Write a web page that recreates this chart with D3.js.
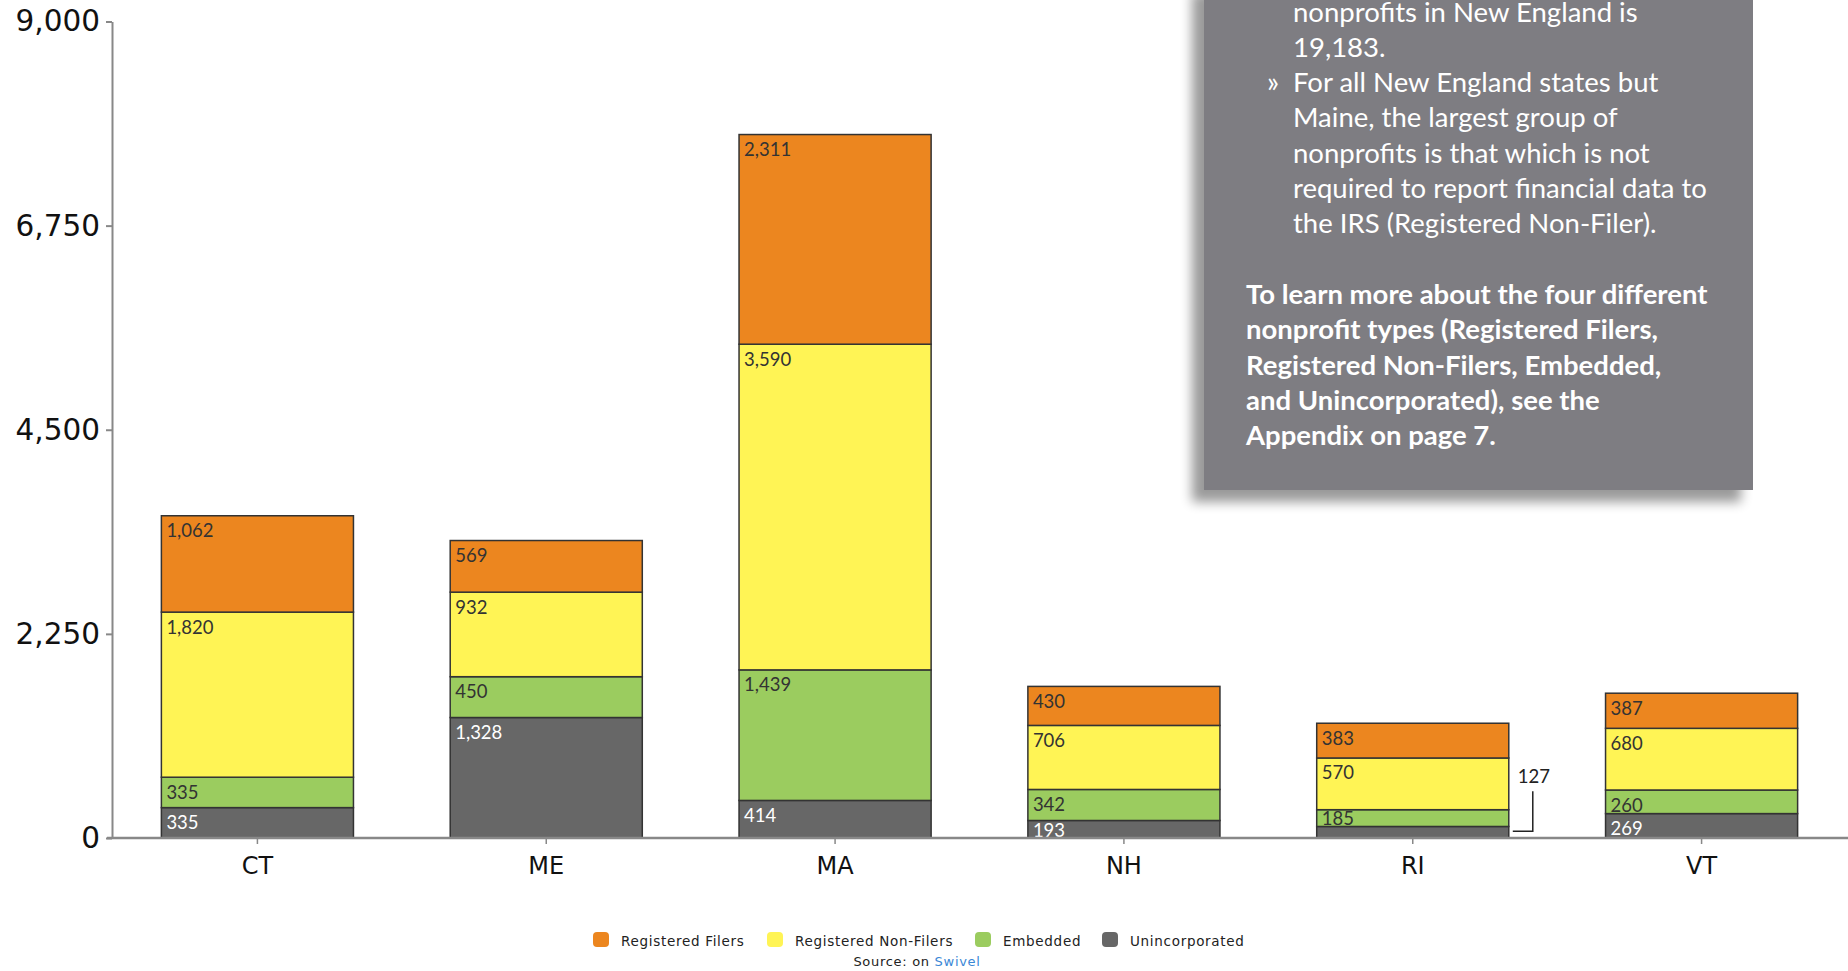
<!DOCTYPE html>
<html>
<head>
<meta charset="utf-8">
<script src="https://cdn.jsdelivr.net/npm/d3@7"></script>
<style>
  html, body { margin: 0; padding: 0; background: #fff; }
  svg { display: block; }
</style>
</head>
<body>
<svg id="chart" width="1848" height="971"></svg>
<script>
// ---- data ----
const states = ["CT", "ME", "MA", "NH", "RI", "VT"];
const seriesNames = ["Unincorporated", "Embedded", "Registered Non-Filers", "Registered Filers"];
const unincorporated = [335, 1328, 414, 193, 127, 269];
const embedded = [335, 450, 1439, 342, 185, 260];
const nonFilers = [1820, 932, 3590, 706, 570, 680];
const filers = [1062, 569, 2311, 430, 383, 387];
const yTicks = [0, 2250, 4500, 6750, 9000];
const legendOrder = ["Registered Filers", "Registered Non-Filers", "Embedded", "Unincorporated"];
const colors = {
  "Registered Filers": "#ec861f",
  "Registered Non-Filers": "#fff455",
  "Embedded": "#9bcc5f",
  "Unincorporated": "#676767"
};
const noteLines = [
  { bullet: false, bold: false, text: "nonprofits in New England is" },
  { bullet: false, bold: false, text: "19,183." },
  { bullet: true, bold: false, text: "For all New England states but" },
  { bullet: false, bold: false, text: "Maine, the largest group of" },
  { bullet: false, bold: false, text: "nonprofits is that which is not" },
  { bullet: false, bold: false, text: "required to report financial data to" },
  { bullet: false, bold: false, text: "the IRS (Registered Non-Filer)." },
  null,
  { bullet: false, bold: true, text: "To learn more about the four different" },
  { bullet: false, bold: true, text: "nonprofit types (Registered Filers," },
  { bullet: false, bold: true, text: "Registered Non-Filers, Embedded," },
  { bullet: false, bold: true, text: "and Unincorporated), see the" },
  { bullet: false, bold: true, text: "Appendix on page 7." }
];

// ---- build table ----
const table = states.map((s, i) => ({
  state: s,
  "Unincorporated": unincorporated[i],
  "Embedded": embedded[i],
  "Registered Non-Filers": nonFilers[i],
  "Registered Filers": filers[i]
}));

const svg = d3.select("#chart");
const x = d3.scaleBand().domain(states).range([113, 1846]).paddingInner(0.335).paddingOuter(0.1675);
const y = d3.scaleLinear().domain([0, 9000]).range([838, 21.5]);

const stacked = d3.stack().keys(seriesNames)(table);

// bars
const defs = svg.append("defs");
let clipId = 0;
const barG = svg.append("g");
stacked.forEach(layer => {
  const key = layer.key;
  layer.forEach(d => {
    const st = d.data.state;
    const x0 = x(st), w = x.bandwidth();
    const yTop = y(d[1]), yBot = y(d[0]);
    const h = yBot - yTop;
    barG.append("rect")
      .attr("x", x0).attr("y", yTop).attr("width", w).attr("height", h)
      .attr("fill", colors[key]).attr("stroke", "#333").attr("stroke-width", 1.5);
    const val = d[1] - d[0];
    const label = d3.format(",")(val);
    const txtColor = key === "Unincorporated" ? "#fff" : "#333";
    if (h >= 14) {
      const id = "clip" + (clipId++);
      defs.append("clipPath").attr("id", id).append("rect")
        .attr("x", x0).attr("y", yTop).attr("width", w).attr("height", h);
      barG.append("text")
        .attr("clip-path", `url(#${id})`)
        .attr("x", x0 + 5).attr("y", Math.min(yTop + 21.5, yBot - 1))
        .attr("font-family", "Lato, 'Open Sans', sans-serif")
        .attr("font-size", 18.5)
        .attr("fill", txtColor)
        .text(label);
    } else {
      // callout to the right
      const xr = x0 + w;
      const ym = (yTop + yBot) / 2;
      barG.append("path")
        .attr("d", `M${xr + 4},${ym - 1}H${xr + 24}V${ym - 41}`)
        .attr("fill", "none").attr("stroke", "#222").attr("stroke-width", 1.5);
      barG.append("text")
        .attr("x", xr + 9).attr("y", ym - 49)
        .attr("font-family", "Lato, 'Open Sans', sans-serif")
        .attr("font-size", 18.5)
        .attr("fill", "#222")
        .text(label);
    }
  });
});

// axes
const yAxis = d3.axisLeft(y).tickValues(yTicks).tickFormat(d3.format(",")).tickSize(6).tickPadding(6).tickSizeOuter(0);
const yg = svg.append("g").attr("transform", "translate(112,0)").call(yAxis);
yg.select(".domain").attr("stroke", "#888").attr("stroke-width", 2);
yg.selectAll(".tick line").attr("stroke", "#888").attr("stroke-width", 2);
yg.selectAll(".tick text").attr("font-family", "'DejaVu Sans', Verdana, sans-serif").attr("font-size", 29.5).attr("fill", "#111");

const xAxis = d3.axisBottom(x).tickSize(6).tickPadding(13).tickSizeOuter(0);
const xg = svg.append("g").attr("transform", "translate(0,838)").call(xAxis);
xg.select(".domain").attr("d", "M107,0H1848").attr("stroke", "#888").attr("stroke-width", 2.5);
xg.selectAll(".tick line").attr("stroke", "#888").attr("stroke-width", 1.5);
xg.selectAll(".tick text").attr("font-family", "'DejaVu Sans', Verdana, sans-serif").attr("font-size", 24).attr("fill", "#111");

// legend
const legend = svg.append("g");
const legX = [593, 767, 975, 1102];
legendOrder.forEach((k, i) => {
  legend.append("rect").attr("x", legX[i]).attr("y", 932).attr("width", 16).attr("height", 15).attr("rx", 4)
    .attr("fill", colors[k]);
  legend.append("text").attr("x", legX[i] + 28).attr("y", 945.5)
    .attr("font-family", "'DejaVu Sans', Verdana, sans-serif").attr("font-size", 13.5)
    .attr("letter-spacing", 0.7)
    .attr("fill", "#222").text(k);
});
const src = svg.append("text").attr("x", 917).attr("y", 966).attr("text-anchor", "middle")
  .attr("font-family", "'DejaVu Sans', Verdana, sans-serif").attr("font-size", 13)
  .attr("letter-spacing", 0.7).attr("fill", "#222");
src.append("tspan").text("Source: on ");
src.append("tspan").attr("fill", "#3a87d6").text("Swivel");

// note box with shadow
const f = defs.append("filter").attr("id", "shadow").attr("x", "-20%").attr("y", "-20%").attr("width", "140%").attr("height", "140%");
f.append("feGaussianBlur").attr("in", "SourceAlpha").attr("stdDeviation", 6);
f.append("feOffset").attr("dx", -12).attr("dy", 12).attr("result", "ob");
f.append("feComponentTransfer").append("feFuncA").attr("type", "linear").attr("slope", 0.4);
const fm = f.append("feMerge");
fm.append("feMergeNode");
fm.append("feMergeNode").attr("in", "SourceGraphic");

const note = svg.append("g");
note.append("rect").attr("x", 1204).attr("y", -20).attr("width", 549).attr("height", 510)
  .attr("fill", "#7e7d82").attr("filter", "url(#shadow)");
noteLines.forEach((ln, i) => {
  if (!ln) return;
  const by = 21.5 + i * 35.3;
  if (ln.bullet) {
    note.append("text").attr("x", 1267).attr("y", by)
      .attr("font-family", "Lato, sans-serif").attr("font-size", 28).attr("fill", "#fff").text("»");
  }
  note.append("text")
    .attr("x", ln.bold ? 1246 : 1293).attr("y", by)
    .attr("font-family", "Lato, sans-serif")
    .attr("font-size", 27.5)
    .attr("font-weight", ln.bold ? 700 : 400)
    .attr("fill", "#fff")
    .text(ln.text);
});
</script>
</body>
</html>
